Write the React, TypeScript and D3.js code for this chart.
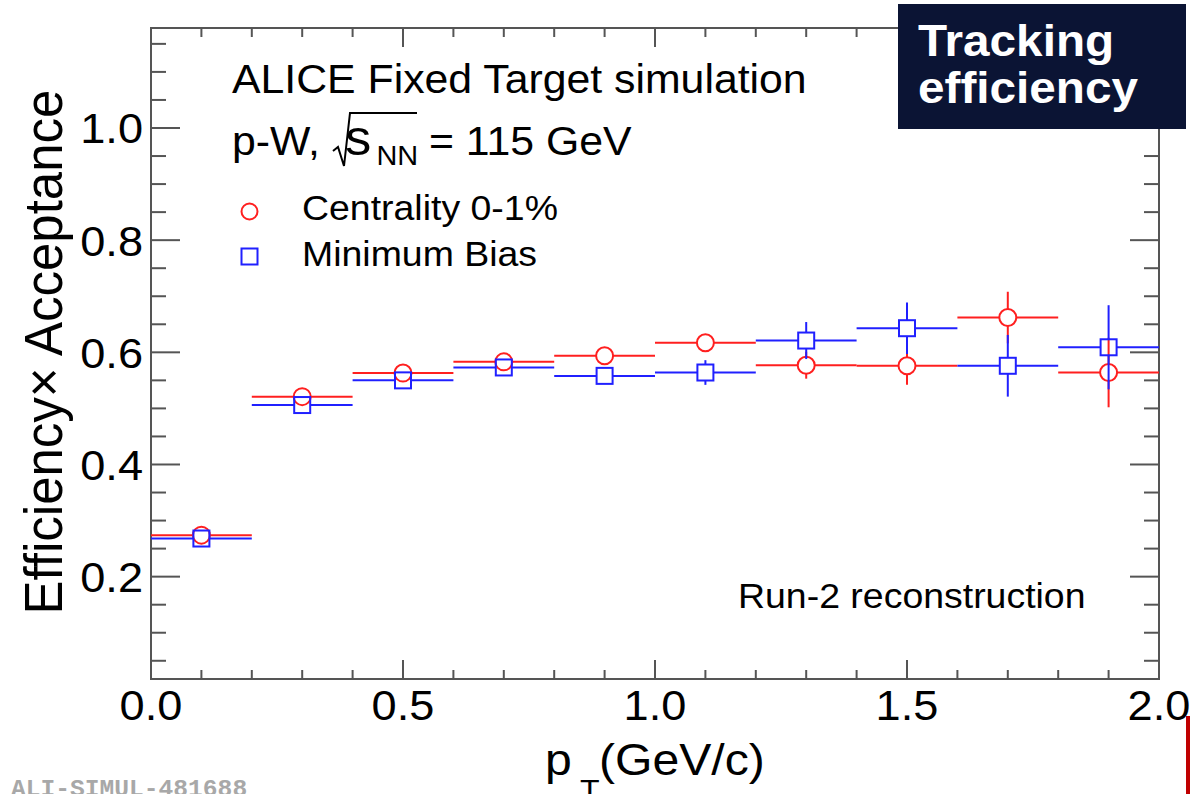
import React from 'react';
import * as d3 from 'd3';

// ---- data ----
const binEdges = [0.0, 0.2, 0.4, 0.6, 0.8, 1.0, 1.2, 1.4, 1.6, 1.8, 2.0];
const centralityValues = [0.274, 0.521, 0.563, 0.583, 0.594, 0.617, 0.577, 0.576, 0.662, 0.564];
const centralityErrors = [0.004, 0.005, 0.006, 0.007, 0.008, 0.013, 0.024, 0.034, 0.046, 0.062];
const minBiasValues = [0.268, 0.506, 0.550, 0.573, 0.558, 0.564, 0.621, 0.643, 0.576, 0.609];
const minBiasErrors = [0.003, 0.004, 0.005, 0.006, 0.007, 0.022, 0.033, 0.046, 0.055, 0.075];
const xTickLabels = ['0.0', '0.5', '1.0', '1.5', '2.0'];
const yTickLabels = ['0.2', '0.4', '0.6', '0.8', '1.0'];

const W = 1190;
const H = 794;
const FRAME = { left: 151, right: 1159, top: 28, bottom: 679 };
const RED = '#ff1f1f';
const BLUE = '#2020ff';
const AXIS = '#555';
const FONT = '"Liberation Sans", Arial, Helvetica, sans-serif';
const SX = 1.07;

const x = d3.scaleLinear().domain([0, 2]).range([FRAME.left, FRAME.right]);
const y = d3.scaleLinear().domain([0.0175, 1.1783]).range([FRAME.bottom, FRAME.top]);

type TxtProps = {
  x: number; y: number; size: number; sx?: number; anchor?: string; weight?: string | number;
  fill?: string; family?: string; rotate?: number; children: React.ReactNode;
};
function Txt({ x, y, size, sx = SX, anchor = 'start', weight = 'normal', fill = '#000', family = FONT, rotate, children }: TxtProps) {
  return (
    <text
      transform={`translate(${x},${y}) scale(${sx},1)${rotate ? ` rotate(${rotate})` : ''}`}
      fontSize={size}
      fontFamily={family}
      fontWeight={weight}
      fill={fill}
      textAnchor={anchor}
    >
      {children}
    </text>
  );
}

function Series({ values, errors, color, marker }: { values: number[]; errors: number[]; color: string; marker: 'circle' | 'square' }) {
  const r = marker === 'circle' ? 8.5 : 8;
  return (
    <g stroke={color} strokeWidth={2} fill="none">
      {values.map((v, i) => {
        const x0 = x(binEdges[i]);
        const x1 = x(binEdges[i + 1]);
        const cx = x((binEdges[i] + binEdges[i + 1]) / 2);
        const cy = y(v);
        const yTop = y(v + errors[i]);
        const yBot = y(v - errors[i]);
        return (
          <g key={i}>
            <line x1={x0} x2={cx - r} y1={cy} y2={cy} />
            <line x1={cx + r} x2={x1} y1={cy} y2={cy} />
            {yTop < cy - r && <line x1={cx} x2={cx} y1={cy - r} y2={yTop} />}
            {yBot > cy + r && <line x1={cx} x2={cx} y1={cy + r} y2={yBot} />}
            {marker === 'circle' ? (
              <circle cx={cx} cy={cy} r={r} />
            ) : (
              <rect x={cx - r} y={cy - r} width={2 * r} height={2 * r} />
            )}
          </g>
        );
      })}
    </g>
  );
}

export default function App() {
  const xMinor = d3.range(0, 2.0001, 0.1);
  const xMajor = xTickLabels.map(Number);
  const yMinor = d3.range(0.05, 1.1501, 0.05);
  const yMajor = yTickLabels.map(Number);
  const isMajorX = (t: number) => xMajor.some((m) => Math.abs(m - t) < 1e-6);
  const isMajorY = (t: number) => yMajor.some((m) => Math.abs(m - t) < 1e-6);

  return (
    <svg width={W} height={H} style={{ position: 'absolute', left: 0, top: 0, background: '#fff' }}>
      <rect x={0} y={0} width={W} height={H} fill="#fff" />

      {/* frame */}
      <rect x={FRAME.left} y={FRAME.top} width={FRAME.right - FRAME.left} height={FRAME.bottom - FRAME.top}
        fill="none" stroke={AXIS} strokeWidth={2} />

      {/* ticks on all four sides */}
      <g stroke={AXIS} strokeWidth={2}>
        {xMinor.map((t, i) => {
          const len = isMajorX(t) ? 19 : 9;
          return (
            <g key={i}>
              <line x1={x(t)} x2={x(t)} y1={FRAME.bottom} y2={FRAME.bottom - len} />
              <line x1={x(t)} x2={x(t)} y1={FRAME.top} y2={FRAME.top + len} />
            </g>
          );
        })}
        {yMinor.map((t, i) => {
          const len = isMajorY(t) ? 29 : 15;
          return (
            <g key={i}>
              <line x1={FRAME.left} x2={FRAME.left + len} y1={y(t)} y2={y(t)} />
              <line x1={FRAME.right} x2={FRAME.right - len} y1={y(t)} y2={y(t)} />
            </g>
          );
        })}
      </g>

      {/* tick labels */}
      {xTickLabels.map((l) => (
        <Txt key={l} x={x(Number(l))} y={720} size={43} sx={1.05} anchor="middle">{l}</Txt>
      ))}
      {yTickLabels.map((l) => (
        <Txt key={l} x={143} y={y(Number(l)) + 15.5} size={43} sx={1.05} anchor="end">{l}</Txt>
      ))}

      {/* axis titles */}
      <Txt x={62} y={352} size={51} anchor="middle" rotate={-90}>Efficiency× Acceptance</Txt>
      <Txt x={545} y={775} size={45}>p</Txt>
      <Txt x={580} y={800} size={30}>T</Txt>
      <Txt x={599} y={775} size={45}>(GeV/c)</Txt>

      {/* data */}
      <Series values={centralityValues} errors={centralityErrors} color={RED} marker="circle" />
      <Series values={minBiasValues} errors={minBiasErrors} color={BLUE} marker="square" />

      {/* annotations */}
      <Txt x={232} y={93} size={40}>ALICE Fixed Target simulation</Txt>
      <Txt x={232} y={155} size={40}>p-W,</Txt>
      <path d="M333,151 L338,147 L344,166 L350,113 L417,113" fill="none" stroke="#000" strokeWidth={2} />
      <Txt x={345} y={155} size={50} sx={1.05}>s</Txt>
      <Txt x={376.5} y={165} size={27}>NN</Txt>
      <Txt x={429} y={155} size={40}>= 115 GeV</Txt>

      {/* legend */}
      <circle cx={249.5} cy={211.5} r={8} fill="none" stroke={RED} strokeWidth={2} />
      <rect x={241.5} y={248.5} width={16} height={16} fill="none" stroke={BLUE} strokeWidth={2} />
      <Txt x={302} y={220} size={35}>Centrality 0-1%</Txt>
      <Txt x={302} y={265.5} size={35}>Minimum Bias</Txt>

      <Txt x={738} y={608} size={35}>Run-2 reconstruction</Txt>

      {/* overlay box */}
      <rect x={898} y={4} width={288} height={125} fill="#0b1434" />
      <Txt x={918} y={56} size={45} sx={1.06} weight="bold" fill="#fff">Tracking</Txt>
      <Txt x={918} y={103} size={45} sx={1.06} weight="bold" fill="#fff">efficiency</Txt>

      {/* footer id */}
      <Txt x={11} y={795.5} size={24.6} sx={1} weight="bold" fill="#a8a8a8" family='"Liberation Mono", "DejaVu Sans Mono", monospace'>ALI-SIMUL-481688</Txt>

      {/* red edge bar */}
      <rect x={1186} y={716} width={4} height={78} fill="#c00000" />
    </svg>
  );
}
